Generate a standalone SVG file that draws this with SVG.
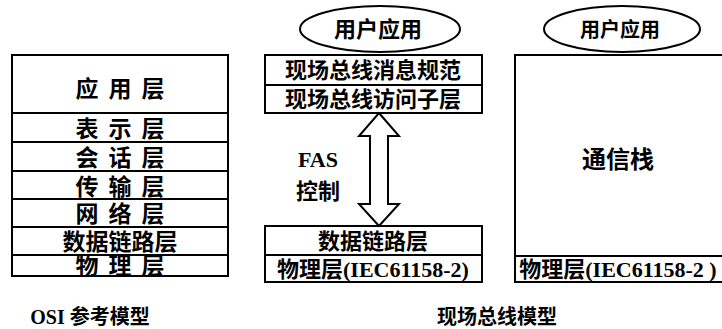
<svg xmlns="http://www.w3.org/2000/svg" width="722" height="329" viewBox="0 0 722 329">
<style>
.box{fill:#fff;stroke:#000;stroke-width:2}
.ln{stroke:#000;stroke-width:2;fill:none}
.t{font-family:"Liberation Serif","Noto Sans CJK SC",serif;font-weight:700;font-size:22px;fill:#000;text-anchor:middle}
.sp{letter-spacing:10px;font-size:23px}
.ell{fill:#fff;stroke:#000;stroke-width:2}
</style>
<rect width="722" height="329" fill="#fff"/>
<g id="osi">
<rect class="box" x="12" y="55" width="216" height="221"/>
<line class="ln" x1="12" y1="113" x2="228" y2="113"/>
<line class="ln" x1="12" y1="142" x2="228" y2="142"/>
<line class="ln" x1="12" y1="171" x2="228" y2="171"/>
<line class="ln" x1="12" y1="199" x2="228" y2="199"/>
<line class="ln" x1="12" y1="227" x2="228" y2="227"/>
<line class="ln" x1="12" y1="255" x2="228" y2="255"/>
<text class="t sp" x="125" y="97">应用层</text>
<text class="t sp" x="125" y="137">表示层</text>
<text class="t sp" x="125" y="166">会话层</text>
<text class="t sp" x="125" y="195">传输层</text>
<text class="t sp" x="125" y="222">网络层</text>
<text class="t" x="120" y="250" style="font-size:23px">数据链路层</text>
<text class="t sp" x="125" y="274">物理层</text>
</g>
<g id="user-app-1">
<ellipse class="ell" cx="380" cy="29" rx="80" ry="23"/>
<text class="t" x="378" y="37">用户应用</text>
</g>
<g id="fb-upper">
<rect class="box" x="265" y="55" width="217" height="58"/>
<line class="ln" x1="265" y1="85" x2="482" y2="85"/>
<text class="t" x="373" y="78">现场总线消息规范</text>
<text class="t" x="373" y="107">现场总线访问子层</text>
</g>
<g id="fb-lower">
<rect class="box" x="265" y="226" width="217" height="56"/>
<line class="ln" x1="265" y1="255" x2="482" y2="255"/>
<text class="t" x="373" y="249">数据链路层</text>
<text class="t" x="373" y="277">物理层(IEC61158-2)</text>
</g>
<g id="fas">
<text class="t" x="318" y="167">FAS</text>
<text class="t" x="318" y="199">控制</text>
</g>
<g id="stack">
<rect class="box" x="515" y="55" width="215" height="227"/>
<line class="ln" x1="515" y1="256" x2="722" y2="256"/>
<text class="t" x="618" y="168" style="font-size:24px">通信栈</text>
<text class="t" x="618" y="277">物理层(IEC61158-2 )</text>
</g>
<g id="user-app-2">
<ellipse class="ell" cx="622" cy="29" rx="78" ry="23"/>
<text class="t" x="620" y="37" style="font-size:20px">用户应用</text>
</g>
<g id="connectors">
<polygon class="box" points="379,113 399,136 388,136 388,204 399,204 379,226 359,204 370,204 370,136 359,136"/>
</g>
<g id="captions">
<text class="t" x="90" y="324" style="font-size:20px">OSI 参考模型</text>
<text class="t" x="497" y="324" style="font-size:20px">现场总线模型</text>
</g>
</svg>
